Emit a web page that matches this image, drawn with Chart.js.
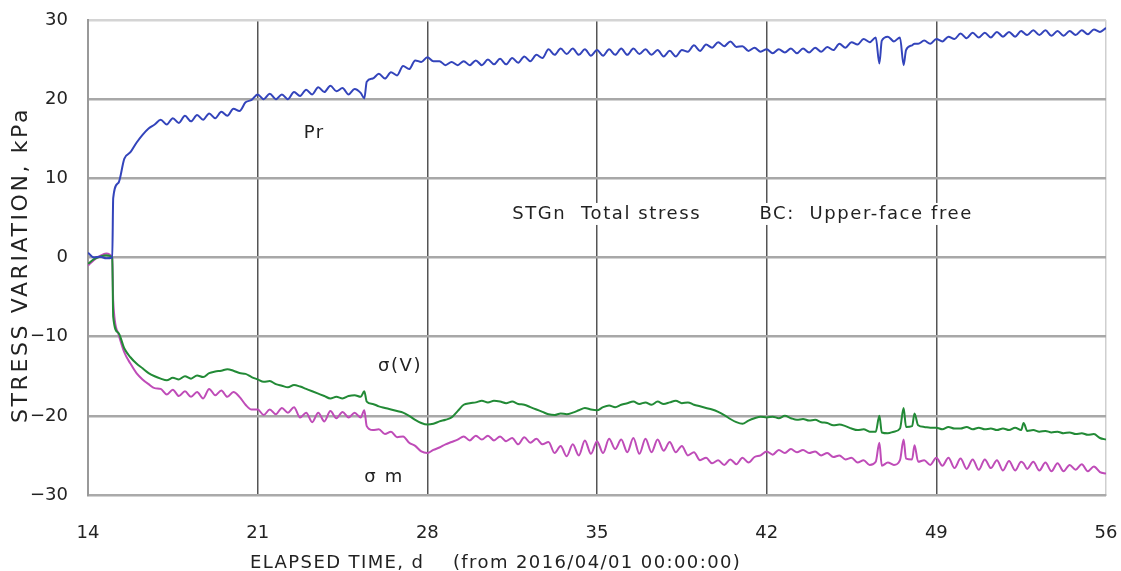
<!DOCTYPE html>
<html>
<head>
<meta charset="utf-8">
<script src="https://cdn.jsdelivr.net/npm/chart.js@4.4.0/dist/chart.umd.min.js"></script>
<style>
  html, body { margin: 0; padding: 0; background: #fff; }
  #wrap { width: 1121px; height: 571px; position: relative; }
</style>
</head>
<body>
<div id="wrap"><canvas id="chart"></canvas></div>
<script>
// sampling times, every 6 h from day 14 to day 56
const days = Array.from({ length: 169 }, (_, i) => 14 + i * 0.25);

// Pr, kPa (one row per day: 0h, 6h, 12h, 18h)
const pr = [
  0.6, 0.0, 0.1, -0.1,      // 14
  0.0, 9.4, 12.5, 13.3,     // 15
  14.5, 15.5, 16.3, 16.8,   // 16
  17.4, 16.8, 17.6, 17.0,   // 17
  17.9, 17.2, 18.0, 17.4,   // 18
  18.2, 17.6, 18.4, 17.9,   // 19
  18.8, 18.5, 19.6, 19.9,   // 20
  20.6, 20.0, 20.7, 20.0,   // 21
  20.6, 20.0, 20.9, 20.4,   // 22
  21.2, 20.6, 21.5, 20.9,   // 23
  21.7, 21.0, 21.4, 20.6,   // 24
  21.3, 20.8, 22.2, 22.6,   // 25
  23.2, 22.6, 23.4, 23.0,   // 26
  24.2, 23.8, 24.9, 24.7,   // 27
  25.3, 24.8, 24.8, 24.3,   // 28
  24.7, 24.3, 24.8, 24.3,   // 29
  24.9, 24.3, 25.0, 24.4,   // 30
  25.1, 24.4, 25.2, 24.6,   // 31
  25.4, 24.8, 25.6, 25.2,   // 32
  26.3, 25.6, 26.4, 25.7,   // 33
  26.4, 25.6, 26.3, 25.5,   // 34
  26.2, 25.5, 26.3, 25.6,   // 35
  26.4, 25.6, 26.4, 25.7,   // 36
  26.3, 25.6, 26.2, 25.4,   // 37
  26.1, 25.4, 26.2, 26.0,   // 38
  26.8, 26.1, 26.9, 26.5,   // 39
  27.2, 26.7, 27.3, 26.6,   // 40
  26.7, 26.1, 26.5, 26.0,   // 41
  26.3, 25.8, 26.3, 25.9,   // 42
  26.4, 25.8, 26.4, 25.9,   // 43
  26.5, 26.0, 26.6, 26.2,   // 44
  27.0, 26.5, 27.2, 26.9,   // 45
  27.6, 27.2, 27.8, 27.4,   // 46
  27.9, 27.3, 27.8, 26.2,   // 47
  26.8, 27.0, 27.4, 27.0,   // 48
  27.6, 27.3, 27.9, 27.6,   // 49
  28.3, 27.7, 28.4, 27.8,   // 50
  28.4, 27.8, 28.5, 27.9,   // 51
  28.5, 27.9, 28.6, 28.1,   // 52
  28.7, 28.1, 28.7, 28.0,   // 53
  28.6, 28.0, 28.6, 28.1,   // 54
  28.7, 28.2, 28.8, 28.5,   // 55
  29.0                      // 56
];

// sigma(V), kPa
const sigV = [
  -0.8, -0.2, 0.1, 0.3,       // 14
  0.0, -9.5, -11.5, -12.6,    // 15
  -13.4, -14.0, -14.6, -15.0, // 16
  -15.3, -15.5, -15.2, -15.4, // 17
  -15.0, -15.3, -14.9, -15.1, // 18
  -14.6, -14.4, -14.3, -14.1, // 19
  -14.3, -14.6, -14.7, -15.1, // 20
  -15.4, -15.7, -15.6, -16.0, // 21
  -16.2, -16.4, -16.1, -16.3, // 22
  -16.6, -16.9, -17.2, -17.5, // 23
  -17.8, -17.6, -17.8, -17.5, // 24
  -17.4, -17.6, -18.2, -18.5, // 25
  -18.8, -19.0, -19.2, -19.4, // 26
  -19.6, -20.0, -20.5, -20.9, // 27
  -21.1, -21.0, -20.7, -20.5, // 28
  -20.2, -19.4, -18.6, -18.4, // 29
  -18.3, -18.1, -18.3, -18.1, // 30
  -18.2, -18.4, -18.2, -18.5, // 31
  -18.6, -18.9, -19.2, -19.5, // 32
  -19.8, -19.9, -19.7, -19.8, // 33
  -19.6, -19.3, -19.0, -19.2, // 34
  -19.3, -18.9, -18.7, -18.9, // 35
  -18.6, -18.4, -18.2, -18.5, // 36
  -18.3, -18.6, -18.2, -18.5, // 37
  -18.3, -18.1, -18.4, -18.3, // 38
  -18.6, -18.8, -19.0, -19.2, // 39
  -19.5, -19.9, -20.4, -20.8, // 40
  -21.0, -20.6, -20.3, -20.1, // 41
  -20.2, -20.1, -20.3, -20.0, // 42
  -20.3, -20.5, -20.4, -20.6, // 43
  -20.5, -20.8, -20.9, -21.2, // 44
  -21.1, -21.3, -21.6, -21.8, // 45
  -21.7, -22.0, -22.0, -22.1, // 46
  -22.2, -22.0, -21.6, -21.4, // 47
  -21.3, -21.2, -21.4, -21.5, // 48
  -21.5, -21.7, -21.4, -21.6, // 49
  -21.6, -21.4, -21.7, -21.5, // 50
  -21.7, -21.6, -21.8, -21.6, // 51
  -21.8, -21.5, -21.8, -21.9, // 52
  -21.8, -22.0, -21.9, -22.1, // 53
  -22.0, -22.2, -22.1, -22.3, // 54
  -22.2, -22.4, -22.3, -22.8, // 55
  -23.0                       // 56
];

// sigma m, kPa
const sigM = [
  -1.0, -0.3, 0.2, 0.5,       // 14
  0.0, -9.6, -12.0, -13.4,    // 15
  -14.6, -15.4, -16.0, -16.5, // 16
  -16.6, -17.3, -16.7, -17.5, // 17
  -16.9, -17.6, -17.0, -17.8, // 18
  -16.6, -17.4, -16.8, -17.6, // 19
  -17.0, -17.6, -18.6, -19.2, // 20
  -19.2, -19.9, -19.2, -19.8, // 21
  -19.0, -19.6, -18.9, -20.2, // 22
  -19.6, -20.8, -19.6, -20.7, // 23
  -19.4, -20.3, -19.5, -20.2, // 24
  -19.6, -20.2, -21.3, -21.8, // 25
  -21.7, -22.3, -22.0, -22.7, // 26
  -22.6, -23.4, -23.8, -24.5, // 27
  -24.7, -24.3, -24.0, -23.6, // 28
  -23.3, -23.0, -22.6, -23.1, // 29
  -22.5, -23.0, -22.5, -23.1, // 30
  -22.6, -23.2, -22.8, -23.6, // 31
  -22.7, -23.4, -22.9, -23.6, // 32
  -23.3, -24.7, -23.8, -25.1, // 33
  -23.6, -25.0, -23.1, -24.8, // 34
  -23.2, -24.7, -22.9, -24.2, // 35
  -23.0, -24.6, -22.8, -24.8, // 36
  -22.9, -24.6, -23.0, -24.4, // 37
  -23.3, -24.6, -23.8, -25.0, // 38
  -24.6, -25.6, -25.3, -26.0, // 39
  -25.6, -26.2, -25.5, -26.1, // 40
  -25.3, -25.9, -25.2, -25.0, // 41
  -24.5, -24.9, -24.3, -24.7, // 42
  -24.2, -24.6, -24.3, -24.7, // 43
  -24.5, -25.0, -24.7, -25.2, // 44
  -25.0, -25.5, -25.3, -25.9, // 45
  -25.6, -26.2, -25.8, -26.3, // 46
  -25.9, -26.2, -25.6, -25.4, // 47
  -25.5, -25.8, -25.6, -26.2, // 48
  -25.3, -26.3, -25.3, -26.6, // 49
  -25.4, -26.7, -25.5, -26.8, // 50
  -25.5, -26.6, -25.6, -26.9, // 51
  -25.7, -26.9, -25.8, -26.7, // 52
  -25.8, -26.9, -25.9, -27.0, // 53
  -26.0, -27.0, -26.2, -26.8, // 54
  -26.1, -27.0, -26.4, -27.1, // 55
  -27.3                       // 56
];

// short events between the 6-hourly samples (load step, spikes)
const eventDays = [15.04, 25.4, 46.65, 47.65, 48.1, 52.6];
const eventPr   = [7.5, 20.1, 24.5, 24.3, 27.0, 28.4];
const eventSigV = [-7.5, -16.9, -20.0, -19.0, -19.7, -20.9];
const eventSigM = [-5.5, -19.3, -23.4, -23.0, -23.7, -26.0];

const xTicks = [14, 21, 28, 35, 42, 49, 56];

function toPoints(vals, evVals) {
  const pts = days.map((d, i) => ({ x: d, y: vals[i] }));
  eventDays.forEach((d, i) => pts.push({ x: d, y: evVals[i] }));
  return pts.sort((a, b) => a.x - b.x);
}

const FONT = "'DejaVu Sans', sans-serif";

// titles and in-plot notes
const textPlugin = {
  id: 'texts',
  beforeDatasetsDraw(chart) {
    const { ctx, scales: { x, y } } = chart;
    ctx.save();
    ctx.font = '18px ' + FONT;
    ctx.letterSpacing = '1.6px';
    ctx.textBaseline = 'middle';
    const notes = [
      ['Pr', 22.9, 15.7],
      ['STGn  Total stress', 31.5, 5.5],
      ['BC:  Upper-face free', 41.7, 5.5],
      ['\u03c3(V)', 25.96, -13.8],
      ['\u03c3 m', 25.4, -27.8]
    ];
    notes.forEach(([t, dx, vy]) => {
      const px = x.getPixelForValue(dx), py = y.getPixelForValue(vy);
      const w = ctx.measureText(t).width;
      ctx.fillStyle = '#fff';
      ctx.fillRect(px - 2, py - 11, w + 4, 22);
      ctx.fillStyle = '#222';
      ctx.fillText(t, px, py);
    });
    ctx.restore();
  },
  afterDraw(chart) {
    const { ctx } = chart;
    ctx.save();
    ctx.font = '18px ' + FONT;
    ctx.letterSpacing = '1.4px';
    ctx.fillStyle = '#222';
    ctx.textBaseline = 'middle';
    ctx.textAlign = 'left';
    ctx.fillText('ELAPSED TIME, d    (from 2016/04/01 00:00:00)', 250, 563);
    ctx.font = '22px ' + FONT;
    ctx.letterSpacing = '2.6px';
    ctx.translate(21, 265);
    ctx.rotate(-Math.PI / 2);
    ctx.textAlign = 'center';
    ctx.fillText('STRESS VARIATION, kPa', 0, 0);
    ctx.restore();
  }
};

const lineStyle = { borderWidth: 2, pointRadius: 0, cubicInterpolationMode: 'monotone', fill: false };

new Chart(document.getElementById('chart'), {
  type: 'line',
  data: {
    datasets: [
      { label: 'Pr', data: toPoints(pr, eventPr), borderColor: '#3344bb', ...lineStyle },
      { label: '\u03c3(V)', data: toPoints(sigV, eventSigV), borderColor: '#228a36', ...lineStyle },
      { label: '\u03c3 m', data: toPoints(sigM, eventSigM), borderColor: '#bf4cb8', ...lineStyle }
    ]
  },
  options: {
    responsive: true,
    maintainAspectRatio: false,
    animation: false,
    devicePixelRatio: 1,
    layout: { padding: { left: 0, right: 15, top: 20, bottom: 0 } },
    plugins: { legend: { display: false }, tooltip: { enabled: false } },
    scales: {
      x: {
        type: 'linear',
        min: 14,
        max: 56,
        afterBuildTicks: s => { s.ticks = xTicks.map(v => ({ value: v })); },
        afterFit: s => { s.height = 76; },
        ticks: { color: '#222', font: { family: FONT, size: 18 }, padding: 0, maxRotation: 0 },
        grid: {
          color: c => (c.tick && (c.tick.value === 56)) ? '#cfcfcf' : (c.tick && c.tick.value === 14 ? '#999' : '#555'),
          lineWidth: 1.5,
          tickLength: 28,
          tickColor: 'rgba(0,0,0,0)'
        },
        border: { color: '#aaa', width: 2 }
      },
      y: {
        min: -30,
        max: 30,
        afterFit: s => { s.width = 88; },
        ticks: {
          stepSize: 10,
          color: '#222',
          font: { family: FONT, size: 18 },
          padding: 0,
          callback: v => (v < 0 ? '\u2212' + Math.abs(v) : String(v))
        },
        grid: {
          color: c => (c.tick && c.tick.value === 30) ? '#d4d4d4' : '#a8a8a8',
          lineWidth: 2.5,
          tickLength: 20,
          tickColor: 'rgba(0,0,0,0)'
        },
        border: { color: '#999', width: 2 }
      }
    }
  },
  plugins: [textPlugin]
});
</script>
</body>
</html>
